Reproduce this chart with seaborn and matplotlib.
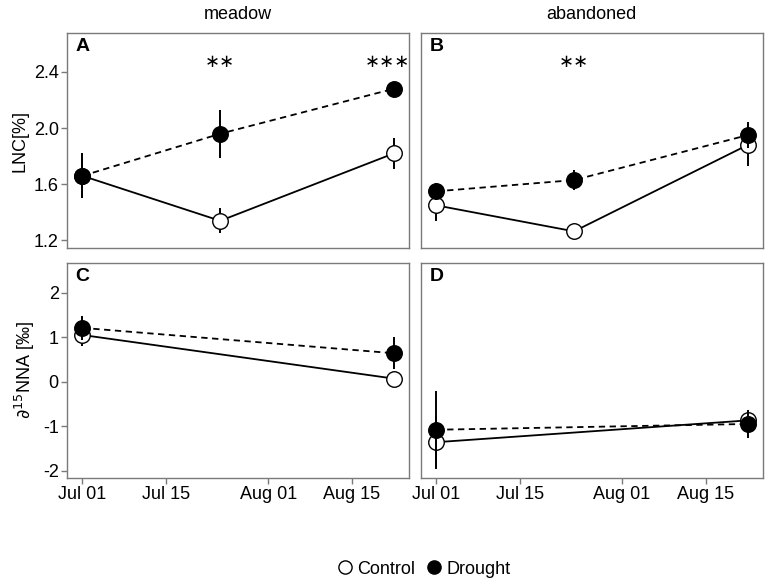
import matplotlib
matplotlib.use("Agg")
import matplotlib.pyplot as plt
import matplotlib.dates as mdates
from matplotlib.lines import Line2D
import numpy as np
import pandas as pd
import seaborn as sns

sns.set_style("white")
plt.rcParams['font.family'] = ['Liberation Sans Narrow', 'Liberation Sans', 'DejaVu Sans']
plt.rcParams['axes.unicode_minus'] = False
plt.rcParams['text.color'] = 'black'
plt.rcParams['axes.labelcolor'] = 'black'
plt.rcParams['mathtext.fontset'] = 'custom'
plt.rcParams['mathtext.rm'] = 'Liberation Sans Narrow'
plt.rcParams['mathtext.it'] = 'Liberation Sans Narrow:italic'

# ---- data ----
lnc_dates = ["2015-07-01", "2015-07-24", "2015-08-22"]
nna_dates = ["2015-07-01", "2015-08-22"]

meadow_lnc_control = [1.66, 1.34, 1.82]
meadow_lnc_control_err = [0.16, 0.09, 0.11]
meadow_lnc_drought = [1.66, 1.96, 2.28]
meadow_lnc_drought_err = [0.16, 0.17, 0.02]

aband_lnc_control = [1.45, 1.265, 1.88]
aband_lnc_control_err = [0.11, 0.04, 0.15]
aband_lnc_drought = [1.55, 1.63, 1.95]
aband_lnc_drought_err = [0.06, 0.07, 0.09]

meadow_nna_control = [1.05, 0.07]
meadow_nna_control_err = [0.25, 0.0]
meadow_nna_drought = [1.21, 0.64]
meadow_nna_drought_err = [0.27, 0.36]

aband_nna_control = [-1.36, -0.87]
aband_nna_control_err = [0.6, 0.2]
aband_nna_drought = [-1.08, -0.95]
aband_nna_drought_err = [0.86, 0.32]

sig_A = [("2015-07-24", "∗∗"), ("2015-08-21", "∗∗∗")]
sig_B = [("2015-07-24", "∗∗")]

col_titles = ["meadow", "abandoned"]
panel_letters = ["A", "B", "C", "D"]
tick_dates = ["2015-07-01", "2015-07-15", "2015-08-01", "2015-08-15"]

fig, axes = plt.subplots(2, 2, figsize=(7.65, 5.82), dpi=100, sharex=True, sharey='row')
fig.subplots_adjust(left=0.0876, right=0.997, top=0.9433, bottom=0.1787,
                    wspace=12/342, hspace=14/215)

spine_col = "#7a7a7a"

def draw(ax, dates, ctrl, ctrl_err, drt, drt_err):
    d = pd.to_datetime(dates)
    dfc = pd.DataFrame({"date": d, "val": ctrl})
    dfd = pd.DataFrame({"date": d, "val": drt})
    ax.errorbar(d, ctrl, yerr=ctrl_err, fmt='none', ecolor='black', elinewidth=1.4, zorder=2)
    sns.lineplot(data=dfc, x="date", y="val", ax=ax, color='black', lw=1.3, zorder=2)
    sns.scatterplot(data=dfc, x="date", y="val", ax=ax, s=125, facecolor='white',
                    edgecolor='black', linewidth=1.0, zorder=3)
    ax.errorbar(d, drt, yerr=drt_err, fmt='none', ecolor='black', elinewidth=1.4, zorder=4)
    sns.lineplot(data=dfd, x="date", y="val", ax=ax, color='black', lw=1.3,
                 linestyle=(0, (3.5, 2.5)), zorder=4)
    sns.scatterplot(data=dfd, x="date", y="val", ax=ax, s=125, color='black',
                    edgecolor='black', linewidth=1.0, zorder=5)
    ax.set_xlabel("")
    ax.set_ylabel("")

draw(axes[0, 0], lnc_dates, meadow_lnc_control, meadow_lnc_control_err,
     meadow_lnc_drought, meadow_lnc_drought_err)
draw(axes[0, 1], lnc_dates, aband_lnc_control, aband_lnc_control_err,
     aband_lnc_drought, aband_lnc_drought_err)
draw(axes[1, 0], nna_dates, meadow_nna_control, meadow_nna_control_err,
     meadow_nna_drought, meadow_nna_drought_err)
draw(axes[1, 1], nna_dates, aband_nna_control, aband_nna_control_err,
     aband_nna_drought, aband_nna_drought_err)

for ax, sig in ((axes[0, 0], sig_A), (axes[0, 1], sig_B)):
    for dt, s in sig:
        ax.text(pd.Timestamp(dt), 2.47, s, ha='center', va='center', fontsize=13,
                family=['DejaVu Sans'], color='black')

axes[0, 0].set_ylim(1.143, 2.677)
axes[0, 0].set_yticks([1.2, 1.6, 2.0, 2.4])
axes[1, 0].set_ylim(-2.165, 2.68)
axes[1, 0].set_yticks([-2, -1, 0, 1, 2])
axes[0, 0].set_xlim(pd.Timestamp("2015-06-28 10:00"), pd.Timestamp("2015-08-24 12:00"))
axes[1, 0].set_xticks(pd.to_datetime(tick_dates))
for ax in axes[1]:
    ax.xaxis.set_major_formatter(mdates.DateFormatter('%b %d'))

for i, ax in enumerate(axes.flat):
    for sp in ax.spines.values():
        sp.set_color(spine_col)
        sp.set_linewidth(1.0)
    ax.text(0.025, 0.975, panel_letters[i], transform=ax.transAxes, ha='left', va='top',
            fontsize=14, fontweight='bold', color='black',
            family=['Liberation Sans', 'DejaVu Sans'])
    r, c = divmod(i, 2)
    ax.tick_params(axis='both', which='both', direction='out', length=4, width=1.0,
                   color=spine_col, labelsize=13, labelcolor='black', pad=2,
                   bottom=(r == 1), left=(c == 0),
                   labelbottom=(r == 1), labelleft=(c == 0))

for c, t in enumerate(col_titles):
    axes[0, c].set_title(t, fontsize=13, pad=10, color='black')

axes[0, 0].set_ylabel("LNC[%]", fontsize=13, labelpad=4)
axes[1, 0].set_ylabel(r"$\partial^{15}$NNA [‰]", fontsize=13, labelpad=4)

handles = [Line2D([], [], marker='o', ls='none', mfc='white', mec='black', ms=9.5, mew=1.0),
           Line2D([], [], marker='o', ls='none', mfc='black', mec='black', ms=9.5, mew=1.0)]
fig.legend(handles, ["Control", "Drought"], loc='center', bbox_to_anchor=(0.552, 0.022),
           ncol=2, frameon=False, fontsize=13, handletextpad=0.1, columnspacing=0.4,
           handlelength=1.2)

fig.savefig("out.png", dpi=100)
